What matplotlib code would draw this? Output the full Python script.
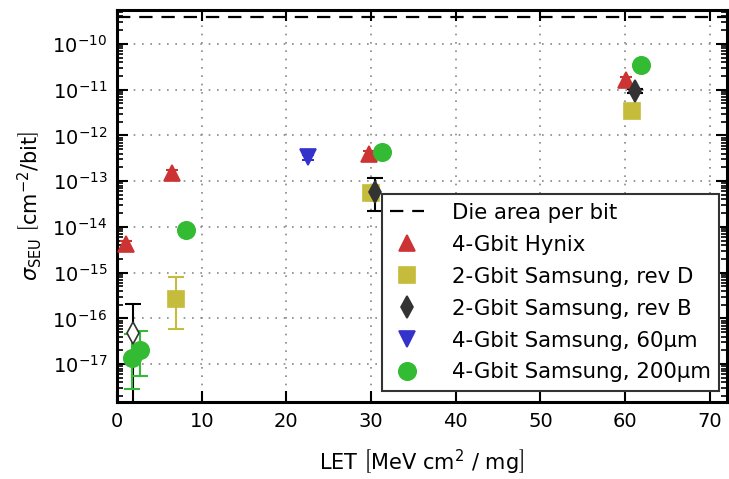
import numpy as np
import matplotlib
matplotlib.use("Agg")
import matplotlib.pyplot as plt

# ---- data ----
die_area_per_bit = 3.9e-10

hynix_let = [1.1, 6.5, 29.8, 60.1]
hynix_sig = [4.2e-15, 1.5e-13, 3.9e-13, 1.6e-11]
hynix_lo = [3.5e-15, 1.25e-13, 3.3e-13, 1.3e-11]
hynix_hi = [5.0e-15, 1.8e-13, 4.6e-13, 1.9e-11]

revD_let = [7.0, 30.0, 60.8]
revD_sig = [2.6e-16, 5.6e-14, 3.5e-12]
revD_lo = [5.8e-17, 5.0e-14, 3.2e-12]
revD_hi = [8.2e-16, 6.2e-14, 3.8e-12]

revB_let = [30.5, 61.2]
revB_sig = [5.7e-14, 9.5e-12]
revB_lo = [2.2e-14, 8.5e-12]
revB_hi = [1.2e-13, 1.05e-11]

revB_open_let = [1.9]
revB_open_sig = [4.7e-17]
revB_open_lo = [1.0e-19]
revB_open_hi = [2.1e-16]

s60_let = [22.6]
s60_sig = [3.3e-13]
s60_lo = [2.9e-13]
s60_hi = [3.7e-13]

s200_let = [1.8, 2.7, 8.2, 31.3, 61.9]
s200_sig = [1.4e-17, 2.0e-17, 8.5e-15, 4.3e-13, 3.4e-11]
s200_lo = [2.9e-18, 5.5e-18, 7.5e-15, 3.9e-13, 3.1e-11]
s200_hi = [4.5e-17, 5.3e-17, 9.5e-15, 4.7e-13, 3.7e-11]

labels = ["Die area per bit", "4-Gbit Hynix", "2-Gbit Samsung, rev D",
          "2-Gbit Samsung, rev B", "4-Gbit Samsung, 60\u00b5m",
          "4-Gbit Samsung, 200\u00b5m"]

c_red = "#cc3333"
c_yel = "#c4bc3a"
c_blk = "#333333"
c_blu = "#3333cc"
c_grn = "#33bb33"

fig = plt.figure(figsize=(7.29, 4.79), dpi=100)
ax = fig.add_axes([0.1605, 0.161, 0.8365, 0.818])
ax.set_yscale("log")
ax.set_xlim(0, 72)
ax.set_ylim(1.5e-18, 5.5e-10)

def eb(x, y, lo, hi, color, marker, ms, mfc=None, ecolor=None, cap=6):
    y = np.array(y); lo = np.array(lo); hi = np.array(hi)
    ax.errorbar(x, y, yerr=[y - lo, hi - y], fmt="none",
                ecolor=ecolor or color, elinewidth=1.5, capsize=cap, capthick=1.5, zorder=3)
    return ax.plot(x, y, ls="none", marker=marker, ms=ms, color=color,
                   mfc=mfc or color, mec=color, mew=1.2, zorder=4)[0]

h0 = ax.axhline(die_area_per_bit, color="black", ls=(0, (6, 4)), lw=1.6, zorder=2)
eb(revB_open_let, revB_open_sig, revB_open_lo, revB_open_hi, c_blk, "d", 11,
   mfc="white", ecolor="black")
h1 = eb(hynix_let, hynix_sig, hynix_lo, hynix_hi, c_red, "^", 11, cap=4)
h2 = eb(revD_let, revD_sig, revD_lo, revD_hi, c_yel, "s", 12)
h3 = eb(revB_let, revB_sig, revB_lo, revB_hi, c_blk, "d", 11, ecolor="black")
h4 = eb(s60_let, s60_sig, s60_lo, s60_hi, c_blu, "v", 12, cap=4)
h5 = eb(s200_let, s200_sig, s200_lo, s200_hi, c_grn, "o", 12.5)

ax.set_xticks([0, 10, 20, 30, 40, 50, 60, 70])
ax.set_yticks([1e-17, 1e-16, 1e-15, 1e-14, 1e-13, 1e-12, 1e-11, 1e-10])
ax.grid(True, which="major", ls=(0, (1, 4)), color="#888888", lw=1.2)
ax.tick_params(which="major", direction="in", length=8, width=1.5,
               top=True, right=True, labelsize=14, pad=7)
ax.tick_params(which="minor", direction="in", length=4, width=1.2,
               top=True, right=True)
ax.tick_params(axis="x", which="minor", bottom=False, top=False)
for s in ax.spines.values():
    s.set_linewidth(2.2)

ax.set_xlabel(r"LET $\left[\mathrm{MeV\ cm^2\ /\ mg}\right]$", fontsize=15, labelpad=12)
ax.set_ylabel(r"$\sigma_{\mathrm{SEU}}\ \left[\mathrm{cm^{-2}/bit}\right]$", fontsize=15, labelpad=6)

leg = ax.legend([h0, h1, h2, h3, h4, h5], labels, loc="lower right",
                bbox_to_anchor=(0.988, 0.028), borderaxespad=0, numpoints=1,
                fontsize=15.3, fancybox=False, framealpha=1, edgecolor="#333333",
                labelspacing=0.56, handlelength=1.6, handletextpad=1.3, borderpad=0.4)
leg.get_frame().set_linewidth(1.5)

fig.savefig("out.png", dpi=100)
